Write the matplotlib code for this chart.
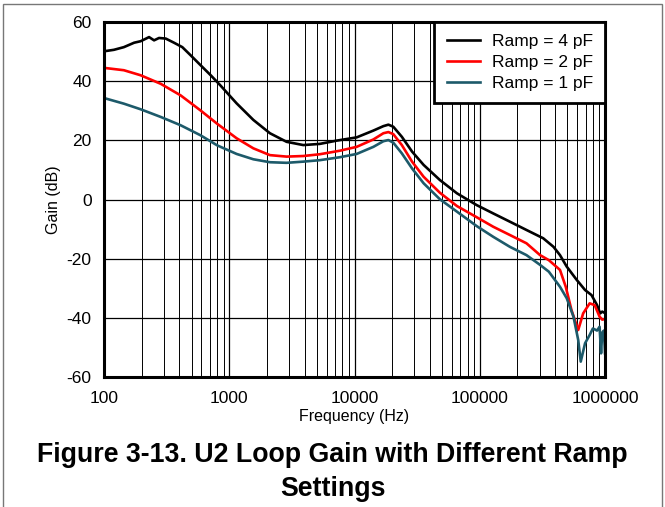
import numpy as np
import matplotlib
matplotlib.use('Agg')
import matplotlib.pyplot as plt
from matplotlib import rcParams
from matplotlib.patches import Rectangle
from matplotlib.ticker import FixedLocator, LogLocator, NullFormatter

rcParams['font.family'] = ['Liberation Sans', 'DejaVu Sans']
rcParams['axes.unicode_minus'] = False

# Ramp = 4 pF
f_4pf = [100, 120, 144, 174, 196, 229, 251, 275, 311, 362, 422, 493, 590, 711,
         844, 1145, 1557, 2112, 2869, 3900, 5290, 7200, 10400, 14150, 17000,
         18650, 20400, 23870, 28800, 35600, 48000, 65700, 94600, 128000,
         174000, 236000, 321000, 388000, 437000, 495000, 595000, 693000,
         780000, 864000, 915000, 950000, 1000000]
g_4pf = [50.1, 50.6, 51.5, 53.0, 53.5, 54.9, 53.8, 54.6, 54.4, 53.0, 51.5, 48.7,
         45.4, 42.0, 38.7, 32.5, 26.9, 22.4, 19.5, 18.4, 18.8, 19.9, 21.0, 23.3,
         24.8, 25.3, 24.6, 21.2, 16.2, 11.7, 6.6, 2.1, -1.9, -4.7, -7.5, -10.3,
         -13.1, -16.0, -18.8, -22.7, -27.2, -30.6, -32.3, -35.7, -38.5, -37.9,
         -38.4]

# Ramp = 2 pF
f_2pf = [100, 144, 196, 284, 409, 590, 801, 1145, 1557, 2112, 2869, 3900, 5290,
         7660, 10400, 14150, 17000, 18650, 20400, 23870, 28800, 35600, 48000,
         65700, 94600, 128000, 174000, 236000, 303000, 356000, 437000, 486000,
         540000, 611000, 669000, 754000, 827000, 905000, 950000, 1000000]
g_2pf = [44.5, 43.7, 42.0, 39.1, 35.2, 30.1, 25.6, 20.7, 17.3, 15.0, 14.5, 14.7,
         15.3, 16.5, 17.8, 20.3, 22.4, 22.8, 22.1, 18.4, 12.8, 7.7, 2.3, -2.2,
         -6.0, -9.2, -12.0, -14.8, -18.8, -20.5, -23.8, -29.5, -37.4, -44.1,
         -38.5, -35.1, -35.7, -39.6, -40.6, -40.4]

# Ramp = 1 pF
f_1pf = [100, 144, 196, 284, 409, 590, 801, 1145, 1557, 2112, 2869, 3900, 5290,
         7660, 10400, 14150, 17000, 18650, 20400, 23870, 28800, 35600, 48000,
         65700, 94600, 128000, 174000, 236000, 303000, 356000, 437000, 495000,
         560000, 611000, 640000, 693000, 754000, 800000, 864000, 905000,
         930000, 950000, 980000, 1000000]
g_1pf = [34.3, 32.4, 30.5, 27.9, 25.1, 21.7, 18.3, 15.4, 13.6, 12.6, 12.4, 12.8,
         13.3, 14.3, 15.4, 17.8, 19.7, 20.1, 19.2, 15.6, 10.5, 5.5, 0.1, -4.1,
         -9.0, -12.6, -16.0, -18.8, -22.1, -24.4, -29.5, -33.4, -39.6, -47.5,
         -54.8, -48.6, -45.8, -43.6, -44.3, -43.0, -52.0, -45.0, -44.3, -52.0]

labels = ['Ramp = 4 pF', 'Ramp = 2 pF', 'Ramp = 1 pF']
colors = ['black', '#ff0000', '#1d5a6a']
x_ticks = [100, 1000, 10000, 100000, 1000000]
x_ticklabels = ['100', '1000', '10000', '100000', '1000000']
y_ticks = [-60, -40, -20, 0, 20, 40, 60]

fig = plt.figure(figsize=(6.65, 5.07), dpi=100)
ax = fig.add_axes([0.1564, 0.2564, 0.7534, 0.7002])

for f, g, lab, c in zip([f_4pf, f_2pf, f_1pf], [g_4pf, g_2pf, g_1pf], labels, colors):
    ax.semilogx(f, g, color=c, lw=1.9, label=lab, solid_joinstyle='round')

ax.set_xlim(100, 1000000)
ax.set_ylim(-60, 60)
ax.xaxis.set_major_locator(FixedLocator(x_ticks))
ax.set_xticklabels(x_ticklabels)
ax.xaxis.set_minor_locator(LogLocator(base=10, subs=np.arange(2, 10)))
ax.xaxis.set_minor_formatter(NullFormatter())
ax.set_yticks(y_ticks)
ax.grid(which='major', color='black', lw=0.9)
ax.grid(which='minor', axis='x', color='black', lw=0.7)
ax.tick_params(which='both', length=0, labelsize=12.5)
ax.tick_params(axis='x', pad=10)
ax.tick_params(axis='y', pad=9)
for s in ax.spines.values():
    s.set_linewidth(2.2)

ax.set_xlabel('Frequency (Hz)', fontsize=11.5, labelpad=2)
ax.set_ylabel('Gain (dB)', fontsize=11.5, labelpad=4)

leg = ax.legend(loc='upper right', fontsize=12.5, fancybox=False, framealpha=1,
                borderaxespad=0, handlelength=1.9, handletextpad=0.7,
                labelspacing=0.33, borderpad=0.7)
leg.get_frame().set_edgecolor('black')
leg.get_frame().set_linewidth(2)

fig.text(0.5, 0.1026, 'Figure 3-13. U2 Loop Gain with Different Ramp', ha='center',
         va='center', fontsize=19.3, fontweight='bold')
fig.text(0.5, 0.0355, 'Settings', ha='center', va='center', fontsize=19.3,
         fontweight='bold')

fig.patches.append(Rectangle((0.005, -0.1), 0.99, 1.093, transform=fig.transFigure,
                             fill=False, edgecolor='#777777', lw=1))

fig.savefig('out.png', dpi=100)
